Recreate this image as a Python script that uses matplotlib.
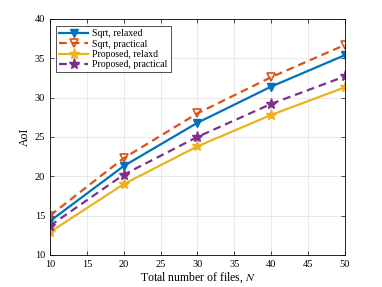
import numpy as np
import matplotlib.pyplot as plt

plt.rcParams['font.family'] = ['Liberation Serif', 'DejaVu Serif']
plt.rcParams['mathtext.fontset'] = 'stix'

N = [10, 20, 30, 40, 50]
sqrt_relaxed = [14.3, 21.3, 26.8, 31.4, 35.4]
sqrt_practical = [15.0, 22.3, 28.0, 32.6, 36.7]
prop_relaxed = [12.9, 19.0, 23.8, 27.8, 31.3]
prop_practical = [13.7, 20.2, 25.0, 29.2, 32.7]

fig = plt.figure(figsize=(3.82, 2.87), dpi=100)
ax = fig.add_axes([0.131, 0.112, 0.772, 0.822])

ax.plot(N, sqrt_relaxed, '-v', color='#0072BD', lw=1.6, ms=6, label='Sqrt, relaxed')
ax.plot(N, sqrt_practical, '--v', color='#D95319', lw=1.6, ms=6, mfc='none', mew=1.2,
        dashes=(3.5, 2.2), label='Sqrt, practical')
ax.plot(N, prop_relaxed, '-*', color='#EDB120', lw=1.6, ms=8, label='Proposed, relaxd')
ax.plot(N, prop_practical, '--*', color='#7E2F8E', lw=1.6, ms=8, dashes=(3.5, 2.2),
        label='Proposed, practical')

ax.set_xlim(10, 50)
ax.set_ylim(10, 40)
ax.set_xticks(range(10, 51, 5))
ax.set_yticks(range(10, 41, 5))
ax.grid(True, color='#e6e6e6', lw=0.6)
ax.set_axisbelow(True)
ax.tick_params(direction='in', labelsize=7.5, length=3, top=True, right=True, width=0.5)
for s in ax.spines.values():
    s.set_linewidth(0.6)
ax.set_xlabel('Total number of files, $N$', fontsize=8.5, labelpad=1)
ax.set_ylabel('AoI', fontsize=8.5, labelpad=3)
leg = ax.legend(loc='upper left', fontsize=7, fancybox=False, edgecolor='#333333',
                framealpha=1, handlelength=3, borderpad=0.3, labelspacing=0.15,
                handletextpad=0.4, bbox_to_anchor=(0.005, 0.99))
leg.get_frame().set_linewidth(0.6)

fig.savefig('out.png', dpi=100)
